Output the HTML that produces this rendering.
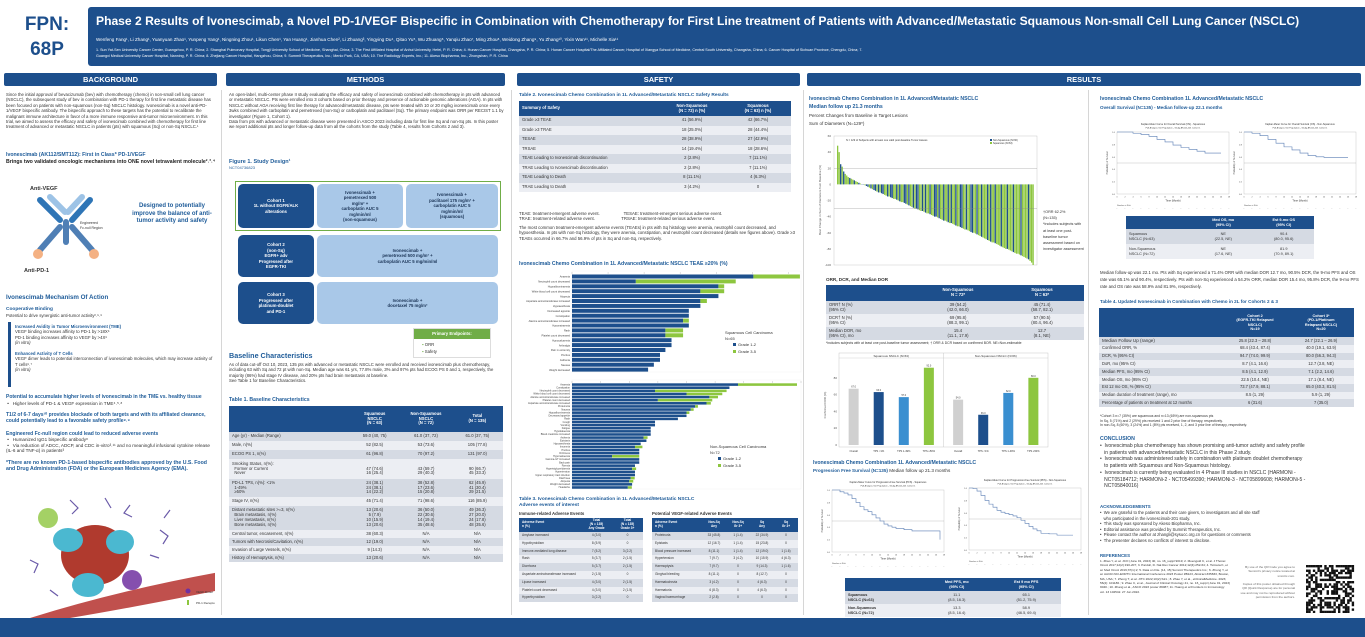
<!DOCTYPE html>
<html><head><meta charset="utf-8">
<style>
*{margin:0;padding:0;box-sizing:border-box}
body{width:1365px;height:637px;overflow:hidden;background:#fff;font-family:"Liberation Sans",sans-serif;color:#333;position:relative}
.a{position:absolute}
.bar{position:absolute;background:#1d4f8c;color:#fff;font-weight:bold;font-size:7.5px;text-align:center;line-height:13px;border-radius:2px}
.t{position:absolute;font-size:4.3px;line-height:5.4px;color:#333}
.h{position:absolute;font-weight:bold;color:#1f5c99}
table{border-collapse:collapse;position:absolute;font-size:4.2px;color:#333;table-layout:fixed}
td{padding:0 3px;text-align:center;line-height:1.15;overflow:hidden}
td:first-child{text-align:left}
tr.hd td{background:#1d4f8c;color:#fff;font-weight:bold}
tr:nth-child(even) td{background:#d5dae3}
tr:nth-child(odd):not(.hd) td{background:#eceef3}
.box{position:absolute;border-radius:5px;font-size:4.3px;font-weight:bold;text-align:center;display:flex;align-items:center;justify-content:center;line-height:5.5px}
.db{background:#1d4f8c;color:#fff}.lb{background:#a9c8e8;color:#1a3355}
.vl{position:absolute;width:1px;background:#d6d6d6}
</style></head><body>

<div class="a" style="left:14px;top:12px;width:66px;text-align:center;font-size:19px;font-weight:bold;color:#1d4f8c;line-height:25px">FPN:<br>68P</div>
<div class="a" style="left:88px;top:7px;width:1277px;height:59px;background:#1d4f8c;border-radius:3px 0 0 3px"></div>
<div class="a" style="left:96px;top:14px;font-size:12.1px;font-weight:bold;color:#fff;white-space:nowrap">Phase 2 Results of Ivonescimab, a Novel PD-1/VEGF Bispecific in Combination with Chemotherapy for First Line treatment of Patients with Advanced/Metastatic Squamous Non-small Cell Lung Cancer (NSCLC)</div>
<div class="a" style="left:96px;top:37px;font-size:4.6px;color:#fff;white-space:nowrap">Wenfeng Fang¹, Li Zhang¹, Yuanyuan Zhao¹, Yunpeng Yang¹, Ningning Zhou¹, Likun Chen¹, Yan Huang¹, Jianhua Chen², Li Zhuang³, Yingying Du⁴, Qitao Yu⁵, Wu Zhuang⁶, Yanqiu Zhao⁷, Ming Zhou⁸, Weidong Zhang⁹, Yu Zhang¹⁰, Yixin Wan¹¹, Michelle Xia¹¹</div>
<div class="a" style="left:96px;top:47px;font-size:3.7px;line-height:6px;color:#fff;white-space:nowrap">1. Sun Yat-Sen University Cancer Center, Guangzhou, P. R. China; 2. Shanghai Pulmonary Hospital, Tongji University School of Medicine, Shanghai, China; 3. The First Affiliated Hospital of Anhui University, Hefei, P. R. China; 4. Hunan Cancer Hospital, Changsha, P. R. China; 5. Hunan Cancer Hospital/The Affiliated Cancer, Hospital of Xiangya School of Medicine, Central South University, Changsha, China; 6. Cancer Hospital of Sichuan Province, Chengdu, China; 7.<br>Guangxi Medical University Cancer Hospital, Nanning, P. R. China; 8. Zhejiang Cancer Hospital, Hangzhou, China; 9. Summit Therapeutics, Inc.; Menlo Park, CA, USA; 10. The Radiology Experts, Inc.; 11. Akeso Biopharma, Inc., Zhongshan, P. R. China</div>

<div class="bar" style="left:4px;top:73px;width:213px">BACKGROUND</div>
<div class="bar" style="left:226px;top:73px;width:279px">METHODS</div>
<div class="bar" style="left:517px;top:73px;width:283px">SAFETY</div>
<div class="bar" style="left:807px;top:73px;width:554px">RESULTS</div>
<div class="vl" style="left:221px;top:90px;height:525px"></div>
<div class="vl" style="left:511px;top:90px;height:525px"></div>
<div class="vl" style="left:803px;top:90px;height:525px"></div>
<div class="vl" style="left:1088px;top:90px;height:525px"></div>

<!-- BACKGROUND -->
<div class="t" style="left:6px;top:92px;width:210px">Since the initial approval of bevacizumab (bev) with chemotherapy (chemo) in non-small cell lung cancer (NSCLC), the subsequent study of bev in combination with PD-1 therapy for first line metastatic disease has been focused on patients with non-squamous (non-Sq) NSCLC histology. Ivonescimab is a novel anti-PD-1/VEGF bispecific antibody. The bispecific approach to these targets has the potential to recalibrate the malignant immune architecture in favor of a more immune responsive anti-tumor microenvironment. In this trial, we aimed to assess the efficacy and safety of ivonescimab combined with chemotherapy for first line treatment of advanced or metastatic NSCLC in patients (pts) with squamous (Sq) or non-Sq NSCLC.¹</div>
<div class="h" style="left:6px;top:152px;font-size:5.2px;line-height:7px">Ivonescimab (AK112/SMT112): First in Class* PD-1/VEGF<br><span style="color:#222">Brings two validated oncologic mechanisms into ONE novel tetravalent molecule²˒³˒⁴</span></div>
<svg class="a" style="left:10px;top:172px" width="115" height="105">
<text x="20" y="18" font-size="5.5" font-weight="bold" fill="#333">Anti-VEGF</text>
<g stroke-width="6" stroke-linecap="round">
<line x1="30" y1="28" x2="50" y2="48" stroke="#2e75b6"/><line x1="80" y1="28" x2="62" y2="48" stroke="#2e75b6"/>
<line x1="40" y1="25" x2="55" y2="40" stroke="#9dc3e6"/><line x1="72" y1="25" x2="58" y2="40" stroke="#9dc3e6"/>
<line x1="56" y1="50" x2="56" y2="70" stroke="#4f7fb5"/>
<line x1="50" y1="55" x2="30" y2="78" stroke="#4f7fb5"/><line x1="62" y1="55" x2="82" y2="78" stroke="#4f7fb5"/>
<circle cx="28" cy="82" r="5" fill="#f4b183" stroke="none"/><circle cx="84" cy="82" r="5" fill="#f4b183" stroke="none"/>
</g>
<text x="70" y="52" font-size="3.5" fill="#333">Engineered</text><text x="70" y="57" font-size="3.5" fill="#333">Fc-null Region</text>
<text x="14" y="100" font-size="5.5" font-weight="bold" fill="#333">Anti-PD-1</text>
</svg>
<div class="h" style="left:128px;top:203px;width:88px;font-size:6px;line-height:7.5px;text-align:center">Designed to potentially improve the balance of anti-tumor activity and safety</div>
<div class="h" style="left:6px;top:294px;font-size:6.2px">Ivonescimab Mechanism Of Action</div>
<div class="h" style="left:6px;top:307px;font-size:4.8px">Cooperative Binding</div>
<div class="t" style="left:6px;top:313px">Potential to drive synergistic anti-tumor activity²˒⁵˒⁶</div>
<div class="a" style="left:8px;top:322px;width:3px;height:65px;background:#1d4f8c"></div>
<div class="t" style="left:15px;top:324px;width:200px"><b style="color:#1f5c99">Increased Avidity in Tumor Microenvironment (TME)</b><br>VEGF binding increases affinity to PD-1 by >18X⁶<br>PD-1 binding increases affinity to VEGF by >4X⁶<br><i>(in vitro)</i><br><br><b style="color:#1f5c99">Enhanced Activity of T Cells</b><br>VEGF dimer leads to potential interconnection of ivonescimab molecules, which may increase activity of T cells⁶˒⁷<br><i>(in vitro)</i></div>
<div class="t" style="left:6px;top:394px;width:210px;font-size:4.6px;line-height:5.6px"><b style="color:#1f5c99;font-size:5px">Potential to accumulate higher levels of ivonescimab in the TME vs. healthy tissue</b><br>&nbsp;•&nbsp;&nbsp; Higher levels of PD-1 &amp; VEGF expression in TME⁴˒⁵˒⁸<br><br><b style="color:#1f5c99;font-size:5px">T1/2 of 6-7 days¹⁰ provides blockade of both targets and with its affiliated clearance, could potentially lead to a favorable safety profile⁸˒⁹</b><br><br><b style="color:#1f5c99;font-size:5px">Engineered Fc-null region could lead to reduced adverse events</b><br>&nbsp;•&nbsp;&nbsp; Humanized IgG1 bispecific antibody⁸<br>&nbsp;•&nbsp;&nbsp; Via reduction of ADCC, ADCP, and CDC in-vitro³˒¹¹ and no meaningful infusional cytokine release (IL-6 and TNF-α) in patients³<br><br><b style="color:#1f5c99;font-size:5.2px">*There are no known PD-1-based bispecific antibodies approved by the U.S. Food and Drug Administration (FDA) or the European Medicines Agency (EMA).</b></div>
<svg class="a" style="left:10px;top:490px" width="205" height="128">
<path d="M20 128 Q110 100 210 82 L210 100 Q120 118 60 128Z" fill="#c0504d"/>
<ellipse cx="85" cy="65" rx="34" ry="30" fill="#b03a2e"/>
<ellipse cx="58" cy="50" rx="15" ry="12" fill="#4bb8d0"/><ellipse cx="110" cy="52" rx="14" ry="12" fill="#4bb8d0"/><ellipse cx="78" cy="95" rx="16" ry="12" fill="#4bb8d0"/>
<circle cx="38" cy="28" r="10" fill="#8dc63f" opacity=".8"/><circle cx="122" cy="90" r="10" fill="#7030a0" opacity=".85"/>
<g stroke="#6a5aa8" stroke-width="1.2" fill="none"><path d="M60 10 l8 8 l-6 6"/><path d="M120 15 l-6 8 l8 4"/><path d="M150 40 l8 6 l-5 8"/><path d="M20 70 l8 4 l-4 9"/><path d="M140 65 l9 3"/><path d="M40 100 l8 6"/><path d="M95 8 l6 10"/><path d="M160 20 l-6 8"/></g>
<circle cx="178" cy="101" r="2.5" fill="#7030a0"/><text x="186" y="103" font-size="3" fill="#333">VEGF Dimer</text>
<rect x="177" y="110" width="2" height="5" fill="#8dc63f"/><text x="186" y="114" font-size="3" fill="#333">PD-1 Receptor in T Cell</text>
</svg>

<!-- METHODS -->
<div class="t" style="left:229px;top:92px;width:275px">An open-label, multi-center phase II study evaluating the efficacy and safety of ivonescimab combined with chemotherapy in pts with advanced or metastatic NSCLC. Pts were enrolled into 3 cohorts based on prior therapy and presence of actionable genomic alterations (AGA). In pts with NSCLC without AGA receiving first line therapy for advanced/metastatic disease, pts were treated with 10 or 20 mg/kg ivonescimab once every 3wks combined with carboplatin and pemetrexed (non-Sq) or carboplatin and paclitaxel (Sq). The primary endpoint was ORR per RECIST 1.1 by investigator (Figure 1, Cohort 1).<br>Data from pts with advanced or metastatic disease were presented in ASCO 2023 including data for first line Sq and non-Sq pts. In this poster we report additional pts and longer follow-up data from all the cohorts from the study (Table 4, results from Cohorts 2 and 3).</div>
<div class="h" style="left:229px;top:159px;font-size:5.5px">Figure 1. Study Design¹<br><span style="font-size:4px;font-weight:normal">NCT04736823</span></div>
<div class="a" style="left:235px;top:181px;width:266px;height:50px;border:1.5px solid #70ad47"></div>
<div class="box db" style="left:238px;top:184px;width:76px;height:44px">Cohort 1<br>1L without EGFR/ALK<br>alterations</div>
<div class="box lb" style="left:317px;top:184px;width:86px;height:44px">Ivonescimab +<br>pemetrexed 500<br>mg/m² +<br>carboplatin AUC 5<br>mg/min/ml<br>(non-squamous)</div>
<div class="box lb" style="left:406px;top:184px;width:92px;height:44px">Ivonescimab +<br>paclitaxel 175 mg/m² +<br>carboplatin AUC 5<br>mg/min/ml<br>(squamous)</div>
<div class="box db" style="left:238px;top:235px;width:76px;height:42px">Cohort 2<br>(non-Sq)<br>EGFR+ adv<br>Progressed after<br>EGFR-TKI</div>
<div class="box lb" style="left:317px;top:235px;width:181px;height:42px">Ivonescimab +<br>pemetrexed 500 mg/m² +<br>carboplatin AUC 5 mg/min/ml</div>
<div class="box db" style="left:238px;top:282px;width:76px;height:42px">Cohort 3<br>Progressed after<br>platinum-doublet<br>and PD-1</div>
<div class="box lb" style="left:317px;top:282px;width:181px;height:42px">Ivonescimab +<br>docetaxel 75 mg/m²</div>
<div class="a" style="left:413px;top:328px;width:78px;height:30px;border:1px solid #ddd;font-size:4.3px">
<div style="background:#70ad47;color:#fff;font-weight:bold;text-align:center;line-height:10px">Primary Endpoints:</div>
<div style="padding:3px 8px;line-height:6.5px"><span style="color:#70ad47">▪</span> ORR<br><span style="color:#70ad47">▪</span> Safety</div></div>
<div class="h" style="left:229px;top:351px;font-size:7.2px">Baseline Characteristics</div>
<div class="t" style="left:229px;top:362px;width:275px">As of data cut-off Oct 10, 2023, 135 pts with advanced or metastatic NSCLC were enrolled and received ivonescimab plus chemotherapy, including 63 with Sq and 72 pt with non-Sq. Median age was 61 yrs, 77.8% male, 3% and 97% pts had ECOG PS 0 and 1, respectively, the majority (86%) had stage IV disease, and 20% pts had brain metastasis at baseline.<br>See Table 1 for Baseline Characteristics.</div>
<div class="h" style="left:229px;top:397px;font-size:5.2px">Table 1. Baseline Characteristics</div>
<table style="left:229px;top:406px;width:274px">
<tr class="hd" style="height:26px"><td style="width:120px"></td><td>Squamous<br>NSCLC<br>(N = 63)</td><td>Non-Squamous<br>NSCLC<br>(N = 72)</td><td>Total<br>(N = 135)</td></tr>
<tr style="height:9px"><td>Age (yr) - Median (Range)</td><td>59.0 (40, 75)</td><td>61.0 (37, 72)</td><td>61.0 (37, 75)</td></tr>
<tr style="height:9px"><td>Male, n(%)</td><td>52 (82.5)</td><td>53 (73.6)</td><td>105 (77.8)</td></tr>
<tr style="height:9px"><td>ECOG PS 1, n(%)</td><td>61 (96.8)</td><td>70 (97.2)</td><td>131 (97.0)</td></tr>
<tr style="height:20px"><td>Smoking Status, n(%):<br>&nbsp; Former or Current<br>&nbsp; Never</td><td><br>47 (74.6)<br>16 (25.4)</td><td><br>43 (59.7)<br>29 (40.3)</td><td><br>90 (66.7)<br>45 (33.3)</td></tr>
<tr style="height:18px"><td>PD-L1 TPS, n(%): &lt;1%<br>&nbsp; 1-49%<br>&nbsp; ≥50%</td><td>24 (38.1)<br>24 (38.1)<br>14 (22.2)</td><td>38 (52.8)<br>17 (23.6)<br>15 (20.8)</td><td>62 (45.9)<br>41 (30.4)<br>29 (21.5)</td></tr>
<tr style="height:9px"><td>Stage IV, n(%)</td><td>45 (71.4)</td><td>71 (98.6)</td><td>116 (85.9)</td></tr>
<tr style="height:24px"><td>Distant metastatic sites >=3, n(%)<br>&nbsp; Brain metastasis, n(%)<br>&nbsp; Liver metastasis, n(%)<br>&nbsp; Bone metastasis, n(%)</td><td>13 (20.6)<br>5 (7.9)<br>10 (15.9)<br>13 (20.6)</td><td>36 (50.0)<br>22 (30.6)<br>14 (19.4)<br>35 (48.6)</td><td>49 (36.3)<br>27 (20.0)<br>24 (17.8)<br>48 (35.6)</td></tr>
<tr style="height:8px"><td>Central tumor, encasement, n(%)</td><td>38 (60.3)</td><td>N/A</td><td>N/A</td></tr>
<tr style="height:8px"><td>Tumors with Necrosis/Cavitation, n(%)</td><td>12 (19.0)</td><td>N/A</td><td>N/A</td></tr>
<tr style="height:8px"><td>Invasion of Large Vessels, n(%)</td><td>9 (14.3)</td><td>N/A</td><td>N/A</td></tr>
<tr style="height:8px"><td>History of Hemoptysis, n(%)</td><td>13 (20.6)</td><td>N/A</td><td>N/A</td></tr>
</table>

<!-- SAFETY -->
<div class="h" style="left:519px;top:93px;font-size:4.8px">Table 2. Ivonescimab Chemo Combination in 1L Advanced/Metastatic NSCLC Safety Results</div>
<table style="left:519px;top:101px;width:272px">
<tr class="hd" style="height:15px"><td style="width:140px">Summary of Safety</td><td>Non-Squamous<br>(N = 72) n (%)</td><td>Squamous<br>(N = 63) n (%)</td></tr>
<tr style="height:9.5px"><td>Grade ≥3 TEAE</td><td>41 (56.9%)</td><td>42 (66.7%)</td></tr>
<tr style="height:9.5px"><td>Grade ≥3 TRAE</td><td>18 (25.0%)</td><td>28 (44.4%)</td></tr>
<tr style="height:9.5px"><td>TESAE</td><td>28 (38.9%)</td><td>27 (42.9%)</td></tr>
<tr style="height:9.5px"><td>TRSAE</td><td>14 (19.4%)</td><td>18 (28.6%)</td></tr>
<tr style="height:9.5px"><td>TEAE Leading to Ivonescimab discontinuation</td><td>2 (2.8%)</td><td>7 (11.1%)</td></tr>
<tr style="height:9.5px"><td>TRAE Leading to Ivonescimab discontinuation</td><td>2 (2.8%)</td><td>7 (11.1%)</td></tr>
<tr style="height:9.5px"><td>TEAE Leading to Death</td><td>8 (11.1%)</td><td>4 (6.3%)</td></tr>
<tr style="height:9.5px"><td>TRAE Leading to Death</td><td>3 (4.2%)</td><td>0</td></tr>
</table>
<div class="t" style="left:519px;top:211px;width:280px">TEAE: treatment-emergent adverse event.&nbsp;&nbsp;&nbsp;&nbsp;&nbsp;&nbsp;&nbsp;&nbsp;&nbsp;&nbsp;&nbsp;&nbsp;&nbsp;&nbsp;&nbsp;&nbsp;&nbsp;&nbsp;&nbsp;&nbsp;TESAE: treatment-emergent serious adverse event.<br>TRAE: treatment-related adverse event.&nbsp;&nbsp;&nbsp;&nbsp;&nbsp;&nbsp;&nbsp;&nbsp;&nbsp;&nbsp;&nbsp;&nbsp;&nbsp;&nbsp;&nbsp;&nbsp;&nbsp;&nbsp;&nbsp;&nbsp;&nbsp;&nbsp;TRSAE: treatment-related serious adverse event.</div>
<div class="t" style="left:519px;top:225px;width:280px">The most common treatment-emergent adverse events (TEAEs) in pts with Sq histology were anemia, neutrophil count decreased, and hypoesthesia. In pts with non-Sq histology, they were anemia, constipation, and neutrophil count decreased (details see figures above). Grade ≥3 TEAEs occurred in 66.7% and 56.9% of pts in Sq and non-Sq, respectively.</div>
<div class="h" style="left:519px;top:261px;font-size:5.2px">Ivonescimab Chemo Combination in 1L Advanced/Metastatic NSCLC TEAE ≥20% (%)</div>
<svg class="a" id="teae" style="left:515px;top:268px" width="290" height="225"></svg>
<div class="h" style="left:519px;top:497px;font-size:4.8px;line-height:6px">Table 3. Ivonescimab Chemo Combination in 1L Advanced/Metastatic NSCLC<br>Adverse events of interest</div>
<div class="t" style="left:519px;top:511px;font-weight:bold">Immune-related Adverse Events</div>
<div class="t" style="left:652px;top:511px;font-weight:bold">Potential VEGF-related Adverse Events</div>
<table style="left:519px;top:518px;width:124px;font-size:3.2px">
<tr class="hd" style="height:14px"><td style="width:62px">Adverse Event<br>n (%)</td><td>Total<br>(N = 135)<br>Any Grade</td><td>Total<br>(N = 135)<br>Grade 3+</td></tr>
<tr style="height:7.8px"><td>Amylase increased</td><td>4 (3.0)</td><td>0</td></tr>
<tr style="height:7.8px"><td>Hypothyroidism</td><td>8 (5.9)</td><td>0</td></tr>
<tr style="height:7.8px"><td>Immune-mediated lung disease</td><td>7 (5.2)</td><td>3 (2.2)</td></tr>
<tr style="height:7.8px"><td>Rash</td><td>5 (3.7)</td><td>2 (1.5)</td></tr>
<tr style="height:7.8px"><td>Diarrhoea</td><td>5 (3.7)</td><td>2 (1.5)</td></tr>
<tr style="height:7.8px"><td>Aspartate aminotransferase increased</td><td>2 (1.5)</td><td>0</td></tr>
<tr style="height:7.8px"><td>Lipase increased</td><td>4 (3.0)</td><td>2 (1.5)</td></tr>
<tr style="height:7.8px"><td>Platelet count decreased</td><td>4 (3.0)</td><td>2 (1.5)</td></tr>
<tr style="height:7.8px"><td>Hyperthyroidism</td><td>3 (2.2)</td><td>0</td></tr>
</table>
<table style="left:652px;top:518px;width:146px;font-size:3.2px">
<tr class="hd" style="height:14px"><td style="width:50px">Adverse Event<br>n (%)</td><td>Non-Sq<br>Any</td><td>Non-Sq<br>Gr 3+</td><td>Sq<br>Any</td><td>Sq<br>Gr 3+</td></tr>
<tr style="height:7.8px"><td>Proteinuria</td><td>33 (45.8)</td><td>1 (1.4)</td><td>22 (34.9)</td><td>0</td></tr>
<tr style="height:7.8px"><td>Epistaxis</td><td>12 (16.7)</td><td>1 (1.4)</td><td>15 (23.8)</td><td>0</td></tr>
<tr style="height:7.8px"><td>Blood pressure increased</td><td>8 (11.1)</td><td>1 (1.4)</td><td>12 (19.0)</td><td>1 (1.6)</td></tr>
<tr style="height:7.8px"><td>Hypertension</td><td>7 (9.7)</td><td>3 (4.2)</td><td>10 (15.9)</td><td>4 (6.3)</td></tr>
<tr style="height:7.8px"><td>Haemoptysis</td><td>7 (9.7)</td><td>0</td><td>9 (14.3)</td><td>1 (1.6)</td></tr>
<tr style="height:7.8px"><td>Gingival bleeding</td><td>8 (11.1)</td><td>0</td><td>8 (12.7)</td><td>0</td></tr>
<tr style="height:7.8px"><td>Haematochezia</td><td>3 (4.2)</td><td>0</td><td>4 (6.3)</td><td>0</td></tr>
<tr style="height:7.8px"><td>Haematuria</td><td>6 (8.3)</td><td>0</td><td>4 (6.3)</td><td>0</td></tr>
<tr style="height:7.8px"><td>Vaginal haemorrhage</td><td>2 (2.8)</td><td>0</td><td>0</td><td>0</td></tr>
</table>

<!-- RESULTS LEFT -->
<div class="h" style="left:809px;top:96px;font-size:5.2px;line-height:7.5px">Ivonescimab Chemo Combination in 1L Advanced/Metastatic NSCLC<br>Median follow up 21.3 months</div>
<div class="t" style="left:809px;top:112px;font-size:4.5px;line-height:7.5px">Percent Changes from Baseline in Target Lesions<br>Sum of Diameters (N=129*)</div>
<svg class="a" id="wf" style="left:815px;top:130px" width="230" height="142"></svg>
<div class="t" style="left:1043px;top:209px;width:42px;font-size:3.8px;line-height:6.2px">†ORR 62.2%<br>(N=135)<br>*includes subjects with at least one post-baseline tumor assessment based on investigator assessment</div>
<div class="t" style="left:826px;top:277px;font-weight:bold;font-size:4.6px">ORR, DCR, and Median DOR</div>
<table style="left:826px;top:285px;width:258px;font-size:4.2px">
<tr class="hd" style="height:16px"><td style="width:90px"></td><td>Non-Squamous<br>N = 72*</td><td>Squamous<br>N = 63*</td></tr>
<tr style="height:13px"><td>ORR† N (%)<br>(95% CI)</td><td>39 (54.2)<br>(42.0, 66.0)</td><td>45 (71.4)<br>(58.7, 82.1)</td></tr>
<tr style="height:13px"><td>DCR† N (%)<br>(95% CI)</td><td>69 (95.8)<br>(88.3, 99.1)</td><td>57 (90.5)<br>(80.4, 96.4)</td></tr>
<tr style="height:13px"><td>Median DOR, mo<br>(95% CI), mo</td><td>15.4<br>(11.1, 17.9)</td><td>12.7<br>(8.1, NE)</td></tr>
</table>
<div class="t" style="left:826px;top:341px;font-size:3.4px">*includes subjects with at least one post-baseline tumor assessment; † ORR &amp; DCR based on confirmed BOR. NE=Non-estimable</div>
<svg class="a" id="gb" style="left:818px;top:350px" width="235" height="105"></svg>
<div class="h" style="left:813px;top:460px;font-size:5.2px;line-height:7px">Ivonescimab Chemo Combination 1L Advanced/Metastatic NSCLC<br><span style="font-size:4.6px">Progression Free Survival (N=135) <span style="color:#333;font-weight:normal">Median follow up 21.3 months</span></span></div>
<svg class="a" id="pfs1" style="left:818px;top:478px" width="130" height="95"></svg>
<svg class="a" id="pfs2" style="left:955px;top:476px" width="130" height="95"></svg>
<table style="left:845px;top:578px;width:216px;font-size:3.8px">
<tr class="hd" style="height:13px"><td style="width:77px"></td><td>Med PFS, mo<br>(95% CI)</td><td>Est 9 mo PFS<br>(95% CI)</td></tr>
<tr style="height:13px"><td><b>Squamous<br>NSCLC (N=63)</b></td><td>11.1<br>(8.5, 16.3)</td><td>65.1<br>(51.2, 75.9)</td></tr>
<tr style="height:13px"><td><b>Non-Squamous<br>NSCLC (N=72)</b></td><td>13.3<br>(8.5, 16.4)</td><td>58.9<br>(46.5, 69.4)</td></tr>
</table>

<!-- RESULTS RIGHT -->
<div class="h" style="left:1100px;top:96px;font-size:5.2px;line-height:7.5px">Ivonescimab Chemo Combination 1L Advanced/Metastatic NSCLC<br><span style="font-size:4.6px">Overall Survival (N=135) - Median follow-up 22.1 months</span></div>
<svg class="a" id="os1" style="left:1103px;top:120px" width="130" height="90"></svg>
<svg class="a" id="os2" style="left:1230px;top:120px" width="130" height="90"></svg>
<table style="left:1126px;top:216px;width:188px;font-size:3.8px">
<tr class="hd" style="height:13px"><td style="width:67px"></td><td>Med OS, mo<br>(95% CI)</td><td>Est 9-mo OS<br>(95% CI)</td></tr>
<tr style="height:15px"><td>Squamous<br>NSCLC (N=63)</td><td>NE<br>(22.5, NE)</td><td>90.4<br>(80.0, 95.6)</td></tr>
<tr style="height:15px"><td>Non-Squamous<br>NSCLC (N=72)</td><td>NE<br>(17.6, NE)</td><td>81.9<br>(70.9, 89.1)</td></tr>
</table>
<div class="t" style="left:1100px;top:269px;width:262px;font-size:4.3px;line-height:7px">Median follow-up was 22.1 mo. Pts with Sq experienced a 71.4% ORR with median DOR 12.7 mo, 90.5% DCR, the 9-mo PFS and OS rate was 65.1% and 90.4%, respectively. Pts with non-Sq experienced a 54.2% ORR, median DOR 15.4 mo, 95.8% DCR, the 9-mo PFS rate and OS rate was 58.9% and 81.9%, respectively.</div>
<div class="h" style="left:1100px;top:299px;font-size:4.6px">Table 4. Updated Ivonescimab in Combination with Chemo in 2L for Cohorts 2 &amp; 3</div>
<table style="left:1099px;top:308px;width:255px;font-size:4.1px">
<tr class="hd" style="height:29px"><td style="width:123px"></td><td style="font-size:3.8px">Cohort 2<br>(EGFR-TKI Relapsed<br>NSCLC)<br>N=19</td><td style="font-size:3.8px">Cohort 3*<br>(PD-1/Platinum<br>Relapsed NSCLC)<br>N=20</td></tr>
<tr style="height:7.8px"><td style="font-size:4.6px">Median Follow Up (range)</td><td>25.8 (22.3 – 28.8)</td><td>24.7 (22.1 – 26.9)</td></tr>
<tr style="height:7.8px"><td>Confirmed ORR, %</td><td>68.4 (43.4, 87.4)</td><td>40.0 (19.1, 63.9)</td></tr>
<tr style="height:7.8px"><td>DCR, % (95% CI)</td><td>94.7 (74.0, 99.9)</td><td>80.0 (56.3, 94.3)</td></tr>
<tr style="height:7.8px"><td>DoR, mo (95% CI)</td><td>8.7 (4.1, 16.6)</td><td>12.7 (3.8, NE)</td></tr>
<tr style="height:7.8px"><td>Median PFS, mo (95% CI)</td><td>8.5 (4.1, 12.9)</td><td>7.1 (2.2, 14.6)</td></tr>
<tr style="height:7.8px"><td>Median OS, mo (95% CI)</td><td>22.5 (10.4, NE)</td><td>17.1 (8.4, NE)</td></tr>
<tr style="height:7.8px"><td>Est 12 mo OS, % (95% CI)</td><td>73.7 (47.9, 88.1)</td><td>65.0 (40.3, 81.5)</td></tr>
<tr style="height:7.8px"><td>Median duration of treatment (range), mo</td><td>8.5 (1, 29)</td><td>5.9 (1, 29)</td></tr>
<tr style="height:7.8px"><td>Percentage of patients on treatment at 12 months</td><td>6 (31.6)</td><td>7 (35.0)</td></tr>
</table>
<div class="t" style="left:1100px;top:414px;width:260px;font-size:3.4px;line-height:4.5px">*Cohort 3 n=7 (35%) are squamous and n=13 (65%) are non-squamous pts<br>In Sq, 5 (71%) and 2 (29%) pts received 1 and 2 prior line of therapy, respectively.<br>In non-Sq, 8 (60%), 3 (24%) and 1 (8%) pts received, 1, 2, and 3 prior line of therapy, respectively.</div>
<div class="h" style="left:1100px;top:436px;font-size:5.2px">CONCLUSION</div>
<div class="t" style="left:1100px;top:443px;width:262px;font-size:5px;line-height:6.7px">•&nbsp; Ivonescimab plus chemotherapy has shown promising anti-tumor activity and safety profile<br>&nbsp;&nbsp;&nbsp;in patients with advanced/metastatic NSCLC in this Phase 2 study.<br>•&nbsp; Ivonescimab was administered safely in combination with platinum doublet chemotherapy<br>&nbsp;&nbsp;&nbsp;to patients with Squamous and Non-Squamous histology.<br>•&nbsp; Ivonescimab is currently being evaluated in 4 Phase III studies in NSCLC (HARMONi -<br>&nbsp;&nbsp;&nbsp;NCT05184712; HARMONi-2 - NCT05499390; HARMONi-3 - NCT05899608; HARMONi-5 -<br>&nbsp;&nbsp;&nbsp;NCT05840016)</div>
<div class="h" style="left:1100px;top:504px;font-size:4.4px">ACKNOWLEDGEMENTS</div>
<div class="t" style="left:1100px;top:510px;width:262px;font-size:4.2px;line-height:5.6px">•&nbsp; We are grateful to the patients and their care givers, to investigators and all site staff<br>&nbsp;&nbsp;&nbsp;who participated in the ivonescimab-201 study.<br>•&nbsp; This study was sponsored by Akeso Biopharma, Inc.<br>•&nbsp; Editorial assistance was provided by Summit Therapeutics, Inc.<br>•&nbsp; Please contact the author at zhangli@sysucc.org.cn for questions or comments<br>•&nbsp; The presenter declares no conflicts of interest to disclose.</div>
<div class="h" style="left:1100px;top:553px;font-size:4.4px">REFERENCES</div>
<div class="t" style="left:1100px;top:559px;width:130px;font-size:3.1px;line-height:4.4px">1. Zhao Y, et al. JCO (June 01, 2023) 40, no. 16_suppl 9019; 2. Moengold C, et al. J Thorac Oncol 2017;12(2):190-207; 3. Pardoll, D. Nat Rev Cancer 2012;12(4):252-64; 4. Tsimuta K, et al. Med Oncol 2019;37(1):2; 5. Data on File. [14, 15] Summit Therapeutics Inc.; 6. Zhong Y, et al. AACR-NCI-EORTC International Conference 2023 Poster #B123, Abstract #35833, Boston, MA, USA; 7. Zhong T, et al. JITC 2022;10(2):S21.; 8. Zhao Y, et al., eClinicalMedicine. 2023; 56(2): 101186.; 9. Zhao C, et al., Journal of Clinical Oncology 41, no. 16_suppl (June 01, 2023) 9040.; 10. Zhang et al., ASCO 2023 poster #9087; 11. Huang et al Frontiers in Immunology vol. 13 104542. 27 Jun 2022.</div>
<div class="t" style="left:1240px;top:565px;width:55px;font-size:3.1px;line-height:4.3px;text-align:right;color:#666">By use of the QR Code you agree to Summit's privacy notice located at smmttx.com.<br><br>Copies of this poster obtained through QR (Quick Response) are for personal use and may not be reproduced without permission from the authors.</div>
<svg class="a" id="qr" style="left:1306px;top:565px" width="50" height="48"></svg>

<div class="a" style="left:0;top:618px;width:1365px;height:19px;background:#1d4f8c"></div>

<script>
// ---------- TEAE chart data ----------
const sqLabels=["Anaemia","Neutrophil count decreased","Hypoalbuminaemia","White blood cell count decreased","Alopecia","Aspartate aminotransferase increased","Hypoaesthesia","Decreased appetite","Constipation","Alanine aminotransferase increased","Hyponatraemia","Rash","Platelet count decreased","Hypocalcaemia","Arthralgia","Pain in extremity","Pruritus","Asthenia","Nausea","Weight decreased"];
const sqG12=[50.3,17.7,40.6,35.6,40.6,35.6,35.6,32.4,32.4,30.8,32.4,25.9,25.9,27.6,27.6,25.9,24.4,24.4,22.7,21.1];
const sqG35=[12.9,27.7,1.6,6.6,0,1.8,0,0,0,1.6,0,4.9,4.9,0,0,0,0,0,0,0];
const nsqLabels=["Anaemia","Constipation","Neutrophil count decreased","White blood cell count decreased","Alanine aminotransferase increased","Platelet count decreased","Aspartate aminotransferase increased","Proteinuria","Nausea","Hypoalbuminaemia","Decreased appetite","Rash","Cough","Vomiting","Fatigue","Hypokalaemia","Blood creatinine increased","Asthenia","Epistaxis","Hypoaesthesia","Insomnia","Pruritus","Dizziness","Hyponatraemia","Gamma-GT increased","Back pain","Pyrexia","Hypertriglyceridaemia","Hypertension","Upper respiratory tract infection","Diarrhoea","Alopecia","Weight decreased","Headache"];
const nsqG12=[58,55,29,40,48,30,47,43,41.5,40,40,37,29,29,27.5,27.5,27.5,25,26,24,22,23.5,23.5,14,23.5,23.5,22,21,22,22,20.5,20,21,19.5];
const nsqG35=[20.6,0,25,12.5,3,19,1.5,1,1,1,0,0,0,0,0,0,0,1.4,0,0,2.6,0,0,9.5,0,0,0,1.4,0,0,1.4,1.4,0,1.4];
const NS='http://www.w3.org/2000/svg';
function mk(svg,tag,attrs){const e=document.createElementNS(NS,tag);for(const k in attrs)e.setAttribute(k,attrs[k]);svg.appendChild(e);return e;}
const teae=document.getElementById('teae');
function hbars(labels,g12,g35,top,bottom,max,tag){
  const x0=57,x1=286;const sx=v=>x0+v/max*(x1-x0);
  const bh=(bottom-top)/labels.length;
  mk(teae,'rect',{x:x0,y:top-3,width:x1-x0,height:bottom-top+3,fill:'#fff',stroke:'#eee','stroke-width':0.4});
  for(let t=0;t<=max;t+=10){mk(teae,'line',{x1:sx(t),x2:sx(t),y1:top-2,y2:top,stroke:'#999','stroke-width':0.3});}
  labels.forEach((lab,i)=>{
    const y=top+i*bh;
    const tx=mk(teae,'text',{x:x0-2,y:y+bh*0.75,'font-size':Math.min(2.6,bh*0.8),'text-anchor':'end',fill:'#444'});tx.textContent=lab;
    const r1=mk(teae,'rect',{x:x0,y:y+bh*0.1,width:sx(g12[i])-x0,height:bh*0.82,fill:'#1d4f8c'});
    
    
    if(g35[i]>0){const r2=mk(teae,'rect',{x:sx(g12[i]),y:y+bh*0.1,width:sx(g12[i]+g35[i])-sx(g12[i]),height:bh*0.82,fill:'#8dc63f'});
    
    }
  });
}
hbars(sqLabels,sqG12,sqG35,6,104,63.5,'sq');
hbars(nsqLabels,nsqG12,nsqG35,115,221,80,'nsq');
function legend(x,y,title,n){
  const t=mk(teae,'text',{x:x,y:y,'font-size':4,fill:'#333'});t.textContent=title;
  const t2=mk(teae,'text',{x:x,y:y+6,'font-size':4,fill:'#333'});t2.textContent=n;
  mk(teae,'rect',{x:x+8,y:y+9,width:3,height:3,fill:'#1d4f8c'});const a=mk(teae,'text',{x:x+13,y:y+12,'font-size':4,fill:'#333'});a.textContent='Grade 1-2';
  mk(teae,'rect',{x:x+8,y:y+16,width:3,height:3,fill:'#8dc63f'});const b=mk(teae,'text',{x:x+13,y:y+19,'font-size':4,fill:'#333'});b.textContent='Grade 3-5';
}
legend(210,66,'Squamous Cell Carcinoma','N=65');
legend(195,180,'Non-Squamous Cell Carcinoma','N=72');

// ---------- Waterfall data ----------
const wfValues=[48,40,25,22,16,13,11,9,8,7,6,5,4,3,2,1,0,0,-1,-2,-3,-4,-5,-6,-7,-8,-9,-10,-10,-11,-12,-13,-14,-15,-15,-16,-17,-18,-18,-19,-20,-21,-22,-22,-23,-24,-25,-26,-27,-28,-29,-30,-30,-31,-32,-33,-33,-34,-35,-36,-36,-37,-38,-39,-40,-40,-41,-42,-43,-44,-45,-45,-46,-47,-48,-48,-49,-50,-51,-52,-52,-53,-54,-55,-56,-56,-57,-58,-59,-60,-60,-61,-62,-63,-64,-65,-66,-67,-68,-69,-70,-71,-72,-72,-73,-74,-75,-76,-77,-78,-79,-80,-80,-81,-82,-83,-84,-85,-86,-86,-87,-88,-89,-90,-91,-92,-93,-95,-97,-100];
const wfGroup="GGBGBGGGBGGBGGBGBBGBBGBGBBGBGBBGGBGBBGGBGBGGBBGBGGBGBBGGBGBGGBGGBBGBGGBGGBGBGGBGGBBGGBGGBBGGBGGBGGGBGBGGBGGGBGGGBGGGBGGGGBGGGGB";
const wfTicks=[60,40,20,0,-20,-40,-60,-80,-100];
const wf=document.getElementById('wf');
{const px0=19,px1=222,py0=6,py1=135;const sy=v=>py0+(60-v)/160*(py1-py0);
 mk(wf,'rect',{x:px0,y:py0,width:px1-px0,height:py1-py0,fill:'#fff',stroke:'#bbb','stroke-width':0.4});
 wfTicks.forEach(t=>{const tx=mk(wf,'text',{x:px0-3,y:sy(t)+1,'font-size':3,'text-anchor':'end',fill:'#555'});tx.textContent=t;});
 const yl=mk(wf,'text',{x:6,y:70,'font-size':3,'text-anchor':'middle',fill:'#555',transform:'rotate(-90 6 70)'});yl.textContent='Best Change in Sum of Diameters from Baseline (%)';
 const bw=(px1-px0-6)/wfValues.length;
 wfValues.forEach((v,i)=>{const x=px0+3+i*bw;const y=Math.min(sy(v),sy(0));
   const r=mk(wf,'rect',{x:x,y:y,width:bw*0.85,height:Math.abs(sy(v)-sy(0))||0.3,fill:wfGroup[i]==='B'?'#1d4f8c':'#8dc63f'});
   
   });
 mk(wf,'line',{x1:px0,x2:px1,y1:sy(20),y2:sy(20),stroke:'#888','stroke-width':0.3});
 mk(wf,'line',{x1:px0,x2:px1,y1:sy(-30),y2:sy(-30),stroke:'#888','stroke-width':0.3});
 const n=mk(wf,'text',{x:px0+12,y:py0+5,'font-size':2.6,fill:'#333'});n.textContent='N = 129 of Subjects with at least one valid post-baseline Tumor Assess';
 mk(wf,'rect',{x:175,y:py0+3,width:2,height:2,fill:'#1d4f8c'});mk(wf,'rect',{x:175,y:py0+6,width:2,height:2,fill:'#8dc63f'});
 const l1=mk(wf,'text',{x:178,y:py0+5,'font-size':2.4,fill:'#333'});l1.textContent='Non-Squamous (N=66)';
 const l2=mk(wf,'text',{x:178,y:py0+8,'font-size':2.4,fill:'#333'});l2.textContent='Squamous (N=63)';
}

// ---------- Grouped ORR bars ----------
const gbCategories=["Overall","TPS <1%","TPS 1-49%","TPS ≥50%"];
const gbSq=[67,63,57,92];
const gbNsq=[54,36,62,80];
const gbTicks=[0,20,40,60,80];
const gbColors=['#d0d0d0','#1d4f8c','#3a8fd0','#8dc63f'];
const gb=document.getElementById('gb');
{const x0=21,x1=230,y0=3,y1=97;const sy=v=>y1-2-v/100*(y1-y0-10);
 mk(gb,'rect',{x:x0,y:y0,width:x1-x0,height:y1-y0,fill:'#fff',stroke:'#bbb','stroke-width':0.4});
 mk(gb,'line',{x1:(x0+x1)/2,x2:(x0+x1)/2,y1:y0,y2:y1,stroke:'#bbb','stroke-width':0.4});
 mk(gb,'line',{x1:x0,x2:x1,y1:y0+5,y2:y0+5,stroke:'#bbb','stroke-width':0.3});
 const h1=mk(gb,'text',{x:(x0*3+x1)/4,y:y0+3.8,'font-size':3,'text-anchor':'middle',fill:'#333'});h1.textContent='Squamous NSCLC (N=63)';
 const h2=mk(gb,'text',{x:(x0+x1*3)/4,y:y0+3.8,'font-size':3,'text-anchor':'middle',fill:'#333'});h2.textContent='Non-Squamous NSCLC (N=66)';
 gbTicks.forEach(t=>{const tx=mk(gb,'text',{x:x0-2,y:sy(t)+1,'font-size':3,'text-anchor':'end',fill:'#555'});tx.textContent=t;});
 const yl=mk(gb,'text',{x:8,y:55,'font-size':3,'text-anchor':'middle',fill:'#555',transform:'rotate(-90 8 55)'});yl.textContent='Confirmed ORR (%)';
 const pw=(x1-x0)/2;
 [gbSq,gbNsq].forEach((vals,p)=>{vals.forEach((v,i)=>{const cx=x0+p*pw+pw*(0.14+i*0.24);
   const r=mk(gb,'rect',{x:cx-5,y:sy(v),width:10,height:sy(0)-sy(v),fill:gbColors[i]});
   
   
   const vt=mk(gb,'text',{x:cx,y:sy(v)-1,'font-size':2.4,'text-anchor':'middle',fill:'#333'});vt.textContent=v.toFixed(1);
   const ct=mk(gb,'text',{x:cx,y:y1+5,'font-size':2.6,'text-anchor':'middle',fill:'#333'});ct.textContent=gbCategories[i];});});
}

// ---------- KM curves ----------
const pfsSqT=[0,1,2,3,4,5,6,7,8,9,10,11,12,13,14,15,16,18,20,22,24,26,27];
const pfsSqS=[1,1,0.97,0.95,0.92,0.86,0.8,0.73,0.68,0.65,0.6,0.55,0.5,0.45,0.42,0.4,0.38,0.36,0.34,0.34,0.34,0.34,0.2];
const pfsNsqT=[0,1,2,3,4,5,6,7,8,9,10,11,12,13,14,15,16,17,18,20,22,24,26];
const pfsNsqS=[1,0.99,0.95,0.88,0.8,0.74,0.69,0.64,0.61,0.59,0.57,0.55,0.52,0.48,0.43,0.38,0.34,0.31,0.27,0.26,0.24,0.24,0.24];
const osSqT=[0,2,4,6,8,10,12,14,16,18,20,22,24,26];
const osSqS=[1,1,0.98,0.96,0.93,0.88,0.84,0.79,0.75,0.72,0.69,0.66,0.66,0.66];
const osNsqT=[0,2,4,6,8,10,12,14,16,18,20,22,24,26];
const osNsqS=[1,0.98,0.94,0.88,0.82,0.76,0.71,0.66,0.62,0.6,0.59,0.59,0.59,0.59];
function km(id,T,S,title){
  const s=document.getElementById(id);const x0=14,x1=126,y0=12,y1=74;const tmax=28;
  const sx=t=>x0+t/tmax*(x1-x0),sy=v=>y1-v*(y1-y0);
  const tt=mk(s,'text',{x:(x0+x1)/2,y:5,'font-size':2.5,'text-anchor':'middle',fill:'#333'});tt.textContent=title;
  const tt2=mk(s,'text',{x:(x0+x1)/2,y:8.5,'font-size':2.2,'text-anchor':'middle',fill:'#333'});tt2.textContent='Full Analysis Set Population - Study AK112-201 Cohort 1';
  mk(s,'rect',{x:x0,y:y0,width:x1-x0,height:y1-y0,fill:'#fff',stroke:'#bbb','stroke-width':0.4});
  mk(s,'line',{x1:x0,x2:x1,y1:sy(0.5),y2:sy(0.5),stroke:'#999','stroke-width':0.3});
  [0,0.2,0.4,0.6,0.8,1].forEach(v=>{const t=mk(s,'text',{x:x0-2,y:sy(v)+1,'font-size':2.2,'text-anchor':'end',fill:'#555'});t.textContent=v.toFixed(1);});
  for(let t=0;t<=tmax;t+=2){const l=mk(s,'text',{x:sx(t),y:y1+3.5,'font-size':2,'text-anchor':'middle',fill:'#555'});l.textContent=t;}
  const xl=mk(s,'text',{x:(x0+x1)/2,y:y1+7.5,'font-size':2.6,'text-anchor':'middle',fill:'#333'});xl.textContent='Time (Month)';
  const yl=mk(s,'text',{x:5,y:(y0+y1)/2,'font-size':2.4,'text-anchor':'middle',fill:'#555',transform:`rotate(-90 5 ${(y0+y1)/2})`});yl.textContent='Probability of Survival';
  let d=`M${sx(T[0])} ${sy(S[0])}`;for(let i=1;i<T.length;i++){d+=` H${sx(T[i])} V${sy(S[i])}`;}
  const p=mk(s,'path',{d:d,fill:'none',stroke:'#5b7fb5','stroke-width':0.6});
  
  
  const r=mk(s,'text',{x:x0,y:y1+12,'font-size':2,fill:'#555'});r.textContent='Number at Risk';
  for(let t=0;t<=tmax;t+=2){const l=mk(s,'text',{x:sx(t),y:y1+15.5,'font-size':1.8,'text-anchor':'middle',fill:'#777'});l.textContent='•';}
}
km('pfs1',pfsSqT,pfsSqS,'Kaplan-Meier Curve for Progression-Free Survival (PFS) - Squamous');
km('pfs2',pfsNsqT,pfsNsqS,'Kaplan-Meier Curve for Progression-Free Survival (PFS) - Non-Squamous');
km('os1',osSqT,osSqS,'Kaplan-Meier Curve for Overall Survival (OS) - Squamous');
km('os2',osNsqT,osNsqS,'Kaplan-Meier Curve for Overall Survival (OS) - Non-Squamous');

// ---------- QR (decorative) ----------
const qrBits="1111111010110111111110000010011010000011011101011101011101101110100101010111011011101011001011101100000100110100000110111111101010101111111000000001101100000000110101110100111010101101011001100111011011100101101011100100001111010110011011001011100110011100101001011100011101001100000000010011010010011011111110100100111001100000101101101110001011101001101011101011011101011010011011101101110110111001110001000001010011011101001111111010111001011101";
const qr=document.getElementById('qr');
{const n=21,c=48/n;for(let i=0;i<qrBits.length&&i<n*n;i++){if(qrBits[i]==='1'){mk(qr,'rect',{x:(i%n)*c,y:Math.floor(i/n)*c,width:c+0.1,height:c+0.1,fill:'#111'});}}}
</script>
</body></html>
